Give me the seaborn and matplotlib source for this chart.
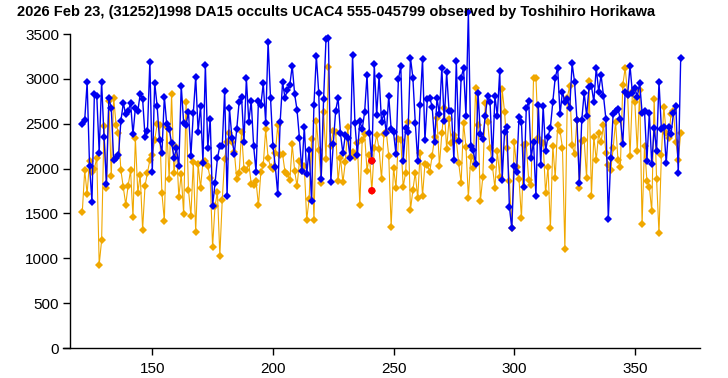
import matplotlib
matplotlib.use("Agg")
import matplotlib.pyplot as plt
import seaborn as sns
import numpy as np
import pandas as pd

# frame numbers
frames = list(range(121, 370))

# target star + asteroid (blue)
blue_counts = [
    2493, 2541, 2962, 2032, 1631, 2828, 2813, 2177, 2969, 2356, 1832, 2791, 2679, 2096, 2122,
    2150, 2534, 2731, 2605, 2642, 2731, 2382, 2679, 2642, 2832,
    2776, 2356, 2419, 3192, 1966, 2958, 2702, 2319, 2177, 2802, 2493, 2438, 2289, 2122, 2226,
    2029, 2925, 2512, 2486, 2635, 2140, 2616, 3025, 2412, 2702, 2066,
    3155, 2233, 2553, 1586, 1836, 2114, 2256, 2256, 2869, 1698, 2672, 2345, 2166, 2438, 2746,
    2802, 2300, 3006, 2523, 2754, 2256, 1966,
    2754, 2709, 2950, 2512, 3415, 2791, 2256, 2022, 1716, 2523, 2962, 2791, 2876, 2932, 3147,
    2832, 2653, 2337, 1977, 2467, 1940, 2207, 1642, 2709,
    3259, 2839, 1884, 2776, 3445, 3460, 1854, 2271, 2642, 2791, 2393, 2170, 2375, 2337, 2114,
    3267, 2504, 2152, 2531, 2441, 2627, 3044, 2393, 2088, 3162, 2598, 3036, 2523,
    2616, 2393, 2813, 2441, 2404, 2159, 2995, 3147, 2085, 2449, 2404, 3237, 3014, 2512, 2085,
    2709, 3222, 2319, 2776, 2791, 2690, 2300,
    2791, 2605, 3125, 2531, 3073, 2642, 2642, 2096, 3203, 2308, 3014, 3118, 2590, 3750, 2256,
    2207, 2047, 2847, 2382, 2330, 2590, 2810, 2739, 2096, 2810,
    2590, 3092, 1873, 2412, 2467, 1575, 1334, 2032, 1966, 2579, 2523, 1798, 2672, 2754, 2122,
    2300, 1698, 2709, 2040, 2698, 2196, 2356, 2456, 2746, 3014,
    3125, 2605, 2858, 2739, 2776, 2672, 3174, 2969, 2542, 1836, 2542, 2847, 2590, 2906, 2921,
    2746, 3125, 2858, 3043, 2813, 2553, 1434, 2122, 2605, 2642,
    2665, 2553, 2278, 2858, 2821, 3147, 2839, 2902, 2802, 2958, 2624, 2646, 2088, 2624, 2047,
    2456, 2196, 2969, 2441, 2467, 2058, 2467, 2386, 2616, 2698, 1947, 3237,
]

# comparison (orange)
orange_counts = [
    1520, 1980, 1720, 2080, 1960, 2000, 2120, 930, 1200, 2470, 1780, 2750, 1920, 2790, 2490,
    2400, 1980, 1790, 1600, 1810, 1980, 1460, 2340, 1730, 1930,
    1320, 1810, 1955, 2096, 2150, 2319, 2493, 2486, 1724, 1419, 2467, 1880, 2832, 1947, 2244,
    1687, 1940, 1493, 2746, 1765, 1475, 2070, 1296, 2047, 1787, 2077,
    2080, 2030, 1890, 1130, 1580, 1740, 1030, 1650, 2110, 2300, 2400, 2300, 2190, 1880, 1950,
    2410, 2000, 1980, 2060, 1830, 1820, 1860,
    1590, 1960, 2040, 2440, 2120, 2020, 1995, 2170, 2490, 2150, 2160, 1965, 1940, 1870, 2270,
    1975, 1805, 2080, 1975, 2030, 1430, 1660, 2330, 1430,
    2530, 2210, 1835, 2635, 2110, 3136, 2256, 2419, 2412, 1862, 2122, 1847, 2070, 2467, 2133,
    2189, 2133, 2282, 1594, 2319, 2382, 1977, 2152, 1754, 2226, 2375, 2219, 1884,
    2382, 2404, 2144, 1352, 2010, 1787, 2330, 2319, 1798, 1955, 2516, 1538, 1761, 1955, 1668,
    2170, 1698, 2047, 2040, 1966, 2144, 2356,
    2560, 2032, 2393, 2672, 2219, 2549, 2282, 2375, 2319, 2058, 1843, 2512, 2244, 1676, 2133,
    2002, 2895, 2486, 1642, 1910, 2728, 2523, 2226, 2021, 1787,
    2196, 1910, 2884, 2635, 2226, 1865, 1341, 2293, 2021, 1880, 1445, 2263, 2271, 1873, 1817,
    3006, 3014, 2337, 2300, 2282, 1724, 2021, 1334, 2256, 1899,
    2486, 2419, 2233, 1100, 2790, 2925, 2263, 2159, 2540, 1780, 2308, 2319, 1892, 2980, 1698,
    2356, 2096, 2393, 2293, 2486, 2170, 2040, 1984, 2226, 2523,
    2096, 2022, 2932, 3125, 2821, 2144, 2858, 2739, 2196, 2876, 1382, 2256, 1862, 1799, 1527,
    2776, 1884, 1278, 2152, 2690, 2393, 2345, 2605, 2642, 2300, 2096, 2400,
]

# flagged frame
event_frame = [241, 241]
event_counts = [2088, 1754]

title = "2026 Feb 23, (31252)1998 DA15 occults UCAC4 555-045799 observed by Toshihiro Horikawa"

df = pd.DataFrame({"frame": frames, "blue": blue_counts, "orange": orange_counts})

sns.set_theme(style="white")
plt.rcParams['font.family'] = ['Liberation Sans', 'DejaVu Sans']

fig = plt.figure(figsize=(7.28, 3.78), dpi=100)
ax = fig.add_axes([63 / 728, 30 / 378, 637 / 728, 339 / 378])

# orange underneath, blue on top
sns.lineplot(data=df, x="frame", y="orange", ax=ax, color="#F0A800", linewidth=0.8,
             marker="D", markersize=3.6, markeredgewidth=0, estimator=None)
sns.lineplot(data=df, x="frame", y="blue", ax=ax, color="#0000F0", linewidth=1.0,
             marker="D", markersize=3.8, markeredgewidth=0, estimator=None)
sns.scatterplot(x=event_frame, y=event_counts, ax=ax, color="#FF0000", s=28,
                marker="o", edgecolor="none", zorder=5)

ax.set_xlim(113, 377)
ax.set_ylim(0, 3780)
ax.set_xticks([150, 200, 250, 300, 350])
ax.set_yticks(np.arange(0, 3501, 500))
ax.set_xlabel("")
ax.set_ylabel("")

for s in ["top", "right"]:
    ax.spines[s].set_visible(False)
ax.spines["left"].set_position(("data", 116))
ax.spines["left"].set_bounds(0, 3500)
for s in ["left", "bottom"]:
    ax.spines[s].set_color("black")
    ax.spines[s].set_linewidth(1.0)

ax.tick_params(axis="both", which="major", direction="out", length=5, width=1.0,
               color="black", labelsize=11, labelcolor="black",
               left=True, bottom=True, pad=3)
ax.tick_params(axis="x", pad=5)

fig.text(17 / 728, 1 - 12 / 378, title, ha="left", va="center",
         fontsize=10.5, fontweight="bold", color="black")

fig.savefig("out.png", dpi=100)
